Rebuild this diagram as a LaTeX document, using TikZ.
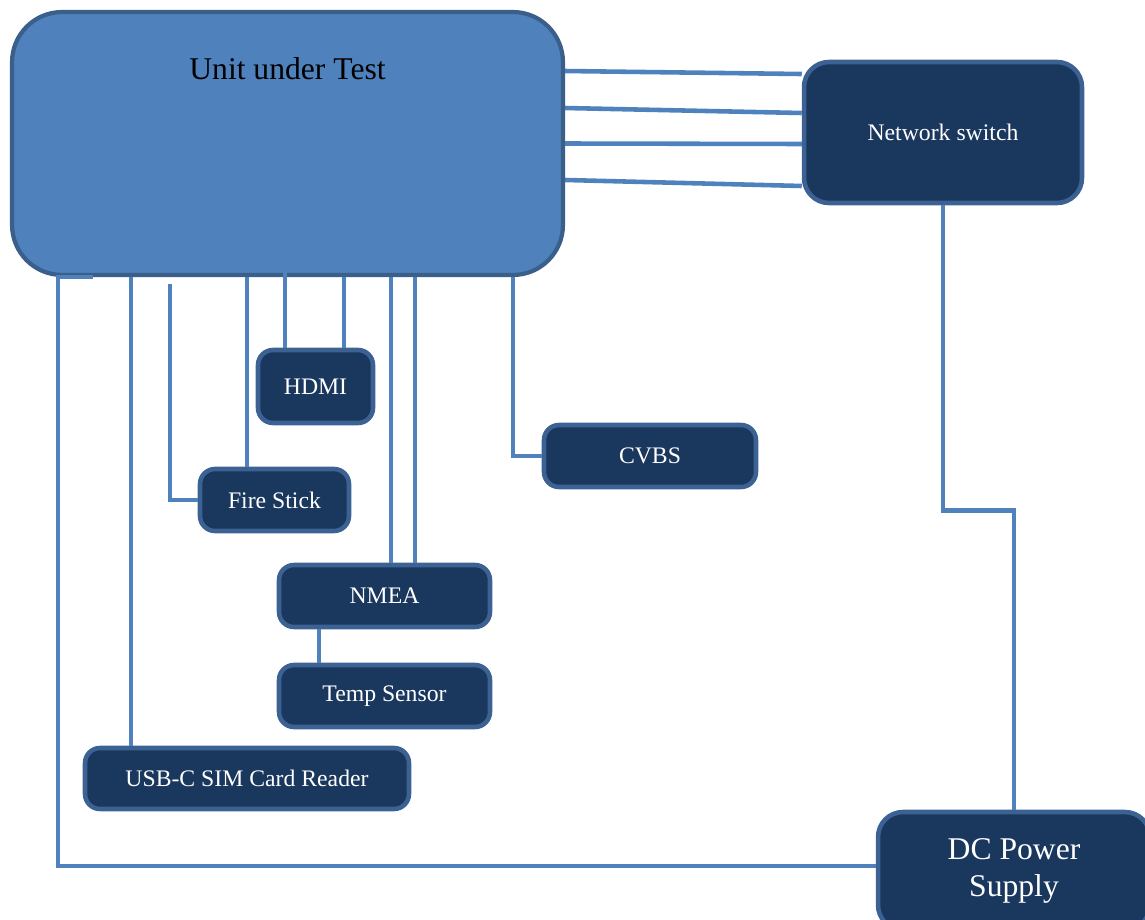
\documentclass[tikz,border=0pt]{standalone}
\usepackage{fontspec}
\setmainfont{Liberation Serif}
\usetikzlibrary{positioning}
\definecolor{uutblue}{HTML}{4F81BD}
\definecolor{uutedge}{HTML}{3A5F8B}
\definecolor{boxnavy}{HTML}{1A375E}
\definecolor{boxedge}{HTML}{3C6293}
\tikzset{
  unit/.style={draw=uutedge, line width=2.4pt, fill=uutblue, rounded corners=1cm, inner sep=0pt},
  box/.style={draw=boxedge, line width=2.6pt, fill=boxnavy, rounded corners=0.3cm, text=white, inner sep=0pt, align=center, font=\fontsize{13.5}{16}\selectfont},
  wire/.style={draw=uutblue, line width=2.6pt},
}
\begin{document}
\begin{tikzpicture}[x=0.02cm,y=-0.02cm]
\useasboundingbox (0,0) rectangle (1145,919);
\node[unit, minimum width=11.02cm, minimum height=5.26cm] (uut) at (287.5,143.5) {};
\node[font=\fontsize{18}{21}\selectfont] (uuttitle) at ([yshift=-1.18cm]uut.north) {Unit under Test};
\node[box, rounded corners=0.5cm, minimum width=5.56cm, minimum height=2.82cm] (sw) at (943,132.5) {Network switch};
\node[box, minimum width=2.3cm, minimum height=1.46cm] (hdmi) at (315.5,386.5) {HDMI};
\node[box, minimum width=2.98cm, minimum height=1.24cm] (fire) at (274.5,500) {Fire Stick};
\node[box, minimum width=4.24cm, minimum height=1.24cm] (cvbs) at (650,456) {CVBS};
\node[box, minimum width=4.22cm, minimum height=1.24cm] (nmea) at (384.5,596) {NMEA};
\node[box, minimum width=4.22cm, minimum height=1.24cm] (temp) at (384.5,696) {Temp Sensor};
\node[box, minimum width=6.48cm, minimum height=1.22cm] (usb) at (247,778.5) {USB-C SIM Card Reader};
\node[box, rounded corners=0.5cm, minimum width=5.44cm, minimum height=2.36cm, font=\fontsize{18}{21}\selectfont] (dc) at (1014,871) {DC Power\\Supply};
% network cables
\foreach \a/\b in {1.45/1.17, 0.71/0.39, 0/-0.23, -0.73/-1.07}
  \draw[wire] ([yshift=\a cm]uut.east) -- ([yshift=\b cm]sw.west);
% power
\draw[wire] (sw.south) -- ++(0,305) -| (dc.north);
\draw[wire] ([yshift=0.1cm]dc.west) -| ([xshift=0.96cm]uut.south west) -- ([xshift=1.66cm]uut.south west);
% peripherals
\draw[wire] ([xshift=-2.32cm]usb.north) coordinate (u1) -- (u1 |- uut.south);
\draw[wire] (fire.west) -| ([shift={(3.2cm,-0.14cm)}]uut.south west);
\draw[wire] ([xshift=-0.55cm]fire.north) coordinate (f1) -- (f1 |- uut.south);
\draw[wire] ([xshift=-0.61cm]hdmi.north) coordinate (h1) -- ([yshift=0.14cm]h1 |- uut.south);
\draw[wire] ([xshift=0.57cm]hdmi.north) coordinate (h2) -- (h2 |- uut.south);
\draw[wire] ([xshift=0.13cm]nmea.north) coordinate (n1) -- (n1 |- uut.south);
\draw[wire] ([xshift=0.61cm]nmea.north) coordinate (n2) -- (n2 |- uut.south);
\draw[wire] ([xshift=-1.31cm]nmea.south) coordinate (t1) -- (t1 |- temp.north);
\draw[wire] (cvbs.west) -| ([xshift=10.06cm]uut.south west);
\end{tikzpicture}
\end{document}
